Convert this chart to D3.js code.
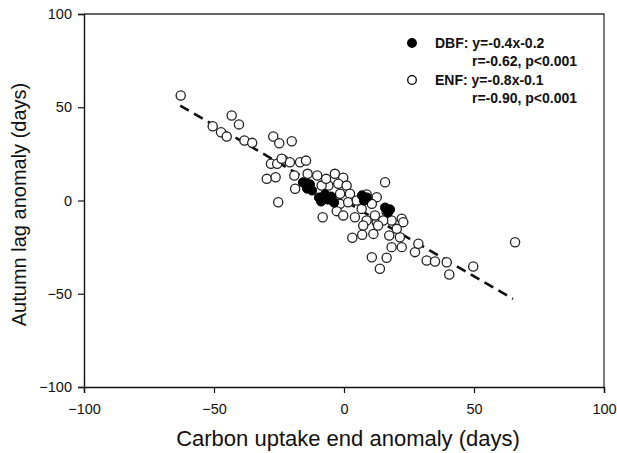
<!DOCTYPE html>
<html>
<head>
<meta charset="utf-8">
<script src="https://cdn.jsdelivr.net/npm/d3@7"></script>
<style>
  html, body { margin: 0; padding: 0; background: #fff; }
  svg { display: block; }
  text { font-family: "Liberation Sans", Arial, sans-serif; fill: #111; }
</style>
</head>
<body>
<svg id="chart" width="617" height="453"></svg>
<script>
// ---- Data ----
const xTicks = [-100, -50, 0, 50, 100];
const yTicks = [-100, -50, 0, 50, 100];

// ENF (open circles)
const enfX = [-62.8,-43.2,-40.4,-50.5,-47.3,-45.1,-38.3,-35.3,-27.2,-24.9,-20.1,-28.1,-25.7,-23.3,-20.8,-16.9,-14.6,-29.7,-26.3,-19.1,-14.0,-18.8,-25.3,-24.0,-10.3,-3.5,-0.3,-6.0,-2.2,1.0,2.3,15.8,8.7,12.6,-1.5,-2.8,-0.3,4.2,6.8,10.7,-8.2,8.7,12.6,16.4,18.3,22.2,22.8,7.4,11.3,3.2,7.0,17.4,21.5,18.3,22.2,27.3,10.7,16.4,13.8,28.6,31.8,35.0,39.5,40.5,49.7,65.8,-8.6,-6.9,-1.5,1.6,4.9,11.9,15.1,20.3,13.1];
const enfY = [56.3,45.6,40.8,39.8,36.6,34.3,32.2,30.9,34.3,30.7,31.8,19.7,19.7,21.8,20.5,20.5,21.4,11.6,12.5,13.4,14.3,6.3,-0.9,22.4,13.4,14.3,12.2,8.0,9.0,8.0,3.6,9.8,3.2,1.8,-1.8,-5.7,-8.0,-9.0,-4.5,-1.8,-9.0,-10.7,-11.6,-6.3,-10.7,-9.8,-11.6,-13.4,-17.9,-20.0,-18.4,-18.8,-19.7,-25.0,-25.0,-27.7,-30.4,-30.7,-36.6,-23.2,-32.2,-32.7,-33.1,-39.7,-35.4,-22.4,8.0,11.6,3.6,-0.9,0.0,-8.0,-10.7,-15.2,-13.4];

// DBF (filled circles)
const dbfX = [-15.8,-14.2,-13.1,-12.3,-9.6,-8.8,-7.3,-6.2,-5.0,-3.8,6.9,7.7,8.8,15.8,16.9,17.7];
const dbfY = [9.7,6.4,8.6,5.4,1.6,-0.5,3.2,0.5,2.1,-1.1,2.7,0.0,1.6,-3.8,-6.4,-4.8];

// Regression line (ENF)
const fitX = [-63, 65];
const fitSlope = -0.81;
const fitIntercept = -0.1;

const legendLines = [
  {label: "DBF: y=-0.4x-0.2", stats: "r=-0.62, p<0.001", filled: true},
  {label: "ENF: y=-0.8x-0.1", stats: "r=-0.90, p<0.001", filled: false}
];

// ---- Chart ----
const svg = d3.select("#chart");
const L = 84, R = 604, T = 14, B = 387;
const x = d3.scaleLinear().domain([-100, 100]).range([L, R]);
const y = d3.scaleLinear().domain([-100, 100]).range([B, T]);

// frame (top and right)
svg.append("path")
  .attr("d", `M${L},${T}H${R}V${B}`)
  .attr("fill", "none").attr("stroke", "#333").attr("stroke-width", 1.3);

const xAxis = svg.append("g").attr("transform", `translate(0,${B})`)
  .call(d3.axisBottom(x).tickValues(xTicks).tickSize(6).tickPadding(11).tickFormat(d3.format("d")));
const yAxis = svg.append("g").attr("transform", `translate(${L},0)`)
  .call(d3.axisLeft(y).tickValues(yTicks).tickSize(6).tickPadding(6).tickFormat(d3.format("d")));
[xAxis, yAxis].forEach(g => {
  g.select(".domain").attr("stroke", "#111").attr("stroke-width", 1.4);
  g.selectAll(".tick line").attr("stroke", "#111").attr("stroke-width", 1.2);
  g.selectAll(".tick text").attr("font-size", 14.5).attr("fill", "#111")
    .attr("font-family", "Liberation Sans, Arial, sans-serif");
});

// axis titles
svg.append("text")
  .attr("x", (L + R) / 2 + 4).attr("y", 446)
  .attr("text-anchor", "middle").attr("font-size", 22)
  .text("Carbon uptake end anomaly (days)");
svg.append("text")
  .attr("transform", `translate(26,${(T + B) / 2 + 4}) rotate(-90)`)
  .attr("text-anchor", "middle").attr("font-size", 20)
  .text("Autumn lag anomaly (days)");

// regression line
svg.append("line")
  .attr("x1", x(fitX[0])).attr("y1", y(fitSlope * fitX[0] + fitIntercept))
  .attr("x2", x(fitX[1])).attr("y2", y(fitSlope * fitX[1] + fitIntercept))
  .attr("stroke", "#111").attr("stroke-width", 2.6)
  .attr("stroke-dasharray", "10,6");

// ENF points
const enf = enfX.map((v, i) => ({x: v, y: enfY[i]}));
svg.append("g").selectAll("circle").data(enf).join("circle")
  .attr("cx", d => x(d.x)).attr("cy", d => y(d.y)).attr("r", 4.6)
  .attr("fill", "#fff").attr("stroke", "#222").attr("stroke-width", 1.3);

// DBF points
const dbf = dbfX.map((v, i) => ({x: v, y: dbfY[i]}));
svg.append("g").selectAll("circle").data(dbf).join("circle")
  .attr("cx", d => x(d.x)).attr("cy", d => y(d.y)).attr("r", 4.6)
  .attr("fill", "#000").attr("stroke", "#000").attr("stroke-width", 1);

// legend
const lg = svg.append("g");
legendLines.forEach((d, i) => {
  const base = 48 + i * 37;
  lg.append("circle").attr("cx", 412).attr("cy", base - 5).attr("r", 4.3)
    .attr("fill", d.filled ? "#000" : "#fff").attr("stroke", "#000").attr("stroke-width", 1.3);
  lg.append("text").attr("x", 435).attr("y", base).attr("font-size", 14)
    .attr("font-weight", "bold").text(d.label);
  lg.append("text").attr("x", 472).attr("y", base + 18).attr("font-size", 14)
    .attr("font-weight", "bold").text(d.stats);
});
</script>
</body>
</html>
